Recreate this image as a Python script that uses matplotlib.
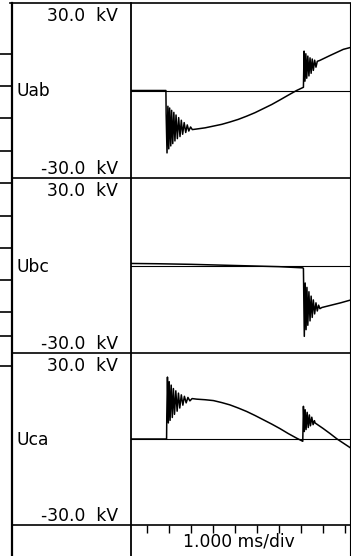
"""Three-phase line voltage recorder view: Uab, Ubc, Uca."""

import matplotlib

matplotlib.use("Agg")
import matplotlib.pyplot as plt  # noqa: E402

W, H = 351, 556

# time in ms (ticks at whole ms), voltage in kV
uab_t = [-0.75, 0.86, 0.87, 0.91, 0.95, 0.99, 1.03, 1.08, 1.12, 1.17, 1.22, 1.27,
         1.32, 1.38, 1.44, 1.50, 1.56, 1.62, 1.69, 1.76, 1.83, 1.90, 1.98, 2.06,
         2.26, 2.64, 3.02, 3.40, 3.77, 4.15, 4.53, 4.91, 5.29, 5.67, 6.05, 6.42,
         6.80, 7.11, 7.14, 7.18, 7.22, 7.26, 7.31, 7.36, 7.41, 7.46, 7.51, 7.56,
         7.62, 7.68, 7.74, 7.85, 8.32, 8.92, 9.27]
uab_v = [0.0, 0.0, -8.0, -21.4, -5.4, -20.0, -6.0, -19.0, -6.8, -18.2, -7.5, -17.3,
         -8.4, -16.5, -9.3, -15.8, -10.2, -15.0, -11.0, -14.4, -11.8, -13.9, -12.5, -13.4,
         -13.2, -12.8, -12.2, -11.6, -10.8, -9.9, -8.8, -7.6, -6.2, -4.8, -3.2, -1.6,
         0.0, 1.1, 13.5, 3.2, 12.6, 4.2, 11.8, 5.0, 11.2, 5.9, 10.8, 6.9,
         10.4, 8.0, 10.0, 10.3, 12.0, 14.1, 14.8]

ubc_t = [-0.75, 0.5, 2.0, 4.0, 6.0, 7.08, 7.11, 7.15, 7.19, 7.23, 7.27, 7.31,
         7.36, 7.41, 7.46, 7.51, 7.56, 7.62, 7.68, 7.74, 7.80, 7.86, 7.95, 8.32,
         8.80, 9.27]
ubc_v = [0.7, 0.6, 0.4, 0.0, -0.4, -0.8, -1.0, -24.3, -6.0, -22.0, -7.5, -20.5,
         -9.0, -19.0, -10.5, -17.8, -11.8, -16.6, -12.8, -15.6, -13.6, -14.8, -14.4, -13.7,
         -12.8, -11.8]

uca_t = [-0.75, 0.89, 0.90, 0.93, 0.97, 1.01, 1.05, 1.10, 1.15, 1.20, 1.25, 1.31,
         1.37, 1.43, 1.49, 1.56, 1.63, 1.70, 1.78, 1.86, 1.95, 2.05, 2.26, 2.64,
         3.02, 3.40, 3.77, 4.15, 4.53, 4.91, 5.29, 5.67, 6.05, 6.42, 6.80, 7.08,
         7.11, 7.15, 7.19, 7.23, 7.28, 7.33, 7.38, 7.43, 7.49, 7.55, 7.61, 7.64,
         8.00, 8.32, 8.64, 9.27]
uca_v = [0.0, 0.0, 8.0, 21.6, 5.6, 20.0, 6.5, 18.8, 7.5, 17.6, 8.6, 16.8,
         9.7, 16.0, 10.8, 15.4, 11.8, 14.9, 12.6, 14.5, 13.3, 14.1, 13.9, 13.7,
         13.4, 12.7, 11.9, 10.8, 9.6, 8.2, 6.7, 5.2, 3.6, 1.9, 0.3, -0.8,
         11.4, 2.6, 10.2, 3.3, 9.3, 4.0, 8.4, 4.6, 7.6, 5.0, 6.4, 5.6,
         3.7, 1.9, 0.0, -3.2]

channels = ["Uab", "Ubc", "Uca"]
scale_top = "30.0  kV"
scale_bottom = "-30.0  kV"
time_label = "1.000 ms/div"
div_ticks = [0, 1, 2, 3, 4, 5, 6, 7, 8, 9]
t_lim = (-0.727, 9.227)
v_lim = (-30, 30)

# panel rows in pixels (top, bottom)
rows = [(3, 178), (178, 353), (353, 525)]
plot_x0, plot_x1 = 131, 350
side_marks = [54, 86, 118, 151, 183, 216, 248, 280, 312, 336, 366]

fig = plt.figure(figsize=(W / 100, H / 100), dpi=100)
fig.patch.set_facecolor("white")


def px_box(x0, y0, x1, y1):
    return [x0 / W, 1 - y1 / H, (x1 - x0) / W, (y1 - y0) / H]


series = [(uab_t, uab_v), (ubc_t, ubc_v), (uca_t, uca_v)]
for (y0, y1), (t, v) in zip(rows, series):
    ax = fig.add_axes(px_box(plot_x0, y0, plot_x1, y1))
    ax.set_xlim(*t_lim)
    ax.set_ylim(*v_lim)
    ax.axhline(0, color="black", lw=0.8)
    ax.plot(t, v, color="black", lw=1.1)
    ax.axis("off")

# footer time ticks
axf = fig.add_axes(px_box(plot_x0, 525, plot_x1, 556))
axf.set_xlim(*t_lim)
axf.set_xticks(div_ticks)
axf.set_yticks([])
axf.xaxis.set_ticks_position("top")
axf.tick_params(axis="x", direction="in", length=6, width=1.0, labeltop=False,
                labelbottom=False, color="black")
for s in axf.spines.values():
    s.set_visible(False)
axf.patch.set_alpha(0)

# frame and labels in pixel space
fr = fig.add_axes([0, 0, 1, 1], zorder=5)
fr.set_xlim(0, W)
fr.set_ylim(H, 0)
fr.axis("off")
fr.patch.set_alpha(0)

fr.plot([12, 12], [3, H], color="black", lw=1.6)
fr.plot([plot_x0, plot_x0], [3, H], color="black", lw=1.3)
fr.plot([plot_x1, plot_x1], [3, H], color="black", lw=0.8)
fr.plot([10, W], [3, 3], color="black", lw=1.2)
for _, yb in rows:
    fr.plot([12, W], [yb, yb], color="black", lw=1.2)
for y in side_marks:
    fr.plot([0, 12], [y, y], color="black", lw=1.2)

font = dict(family="DejaVu Sans", size=12.3, color="black")
for (y0, y1), name in zip(rows, channels):
    fr.text(118, y0 + 13, scale_top, ha="right", va="center", **font)
    fr.text(17, (y0 + y1) / 2 + 1, name, ha="left", va="center", **font)
    fr.text(118, y1 - 9, scale_bottom, ha="right", va="center", **font)

fr.text(239, 542, time_label, ha="center", va="center", **font)

fig.savefig("out.png", dpi=100)
plt.close(fig)
